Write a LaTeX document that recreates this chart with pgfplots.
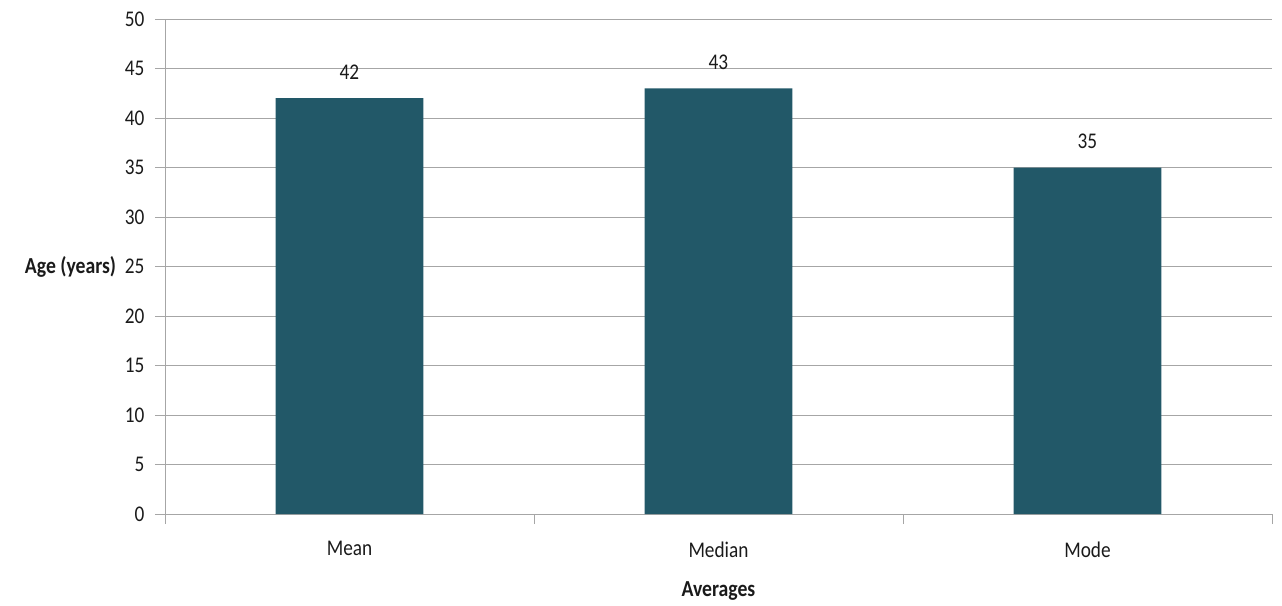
\documentclass[border=0pt]{standalone}
\usepackage{fontspec}
\setmainfont{Carlito}[FakeStretch=0.86]
\usepackage{pgfplots}
\pgfplotsset{compat=1.18}
\definecolor{barc}{HTML}{225868}
\definecolor{gridc}{HTML}{A6A6A6}
\definecolor{txt}{HTML}{1A1A1A}
\begin{document}
\begin{tikzpicture}
\begin{axis}[
  scale only axis,
  width=1107bp, height=495bp,
  xmin=-0.5, xmax=2.5,
  ymin=0, ymax=50,
  ytick={0,5,...,50},
  xtick={0,1,2},
  xticklabels={Mean,Median,Mode},
  minor xtick={-0.5,0.5,1.5,2.5},
  major x tick style={draw=none},
  minor x tick style={draw=gridc, line width=0.8bp},
  minor tick length=10bp,
  y tick style={draw=gridc, line width=0.8bp},
  major tick length=10bp,
  tick align=outside,
  axis lines*=left,
  axis line style={draw=gridc, line width=0.8bp, -},
  ymajorgrids, xminorgrids=false,
  grid style={draw=gridc, line width=0.8bp},
  tick label style={font=\fontsize{22.5}{26}\selectfont, text=txt},
  /pgf/number format/assume math mode=true,
  yticklabel style={xshift=-7bp},
  xticklabel style={yshift=-14bp},
  ylabel={\textbf{Age (years)}},
  ylabel style={rotate=-90, font=\fontsize{23}{26}\selectfont, text=txt, at={(ticklabel cs:0.5)}, anchor=east, xshift=-2bp},
  xlabel={\textbf{Averages}},
  xlabel style={font=\fontsize{23}{26}\selectfont, text=txt, yshift=-18bp},
  nodes near coords,
  every node near coord/.append style={font=\fontsize{22.5}{26}\selectfont, text=txt, yshift=15bp},
  clip=false,
]
\addplot[ybar, bar width=0.4, fill=barc, draw=none, bar shift=0pt] coordinates {(0,42) (1,43) (2,35)};
\end{axis}
\path (-165bp,-92bp) rectangle ++(1282bp,606bp);
\end{tikzpicture}
\end{document}
